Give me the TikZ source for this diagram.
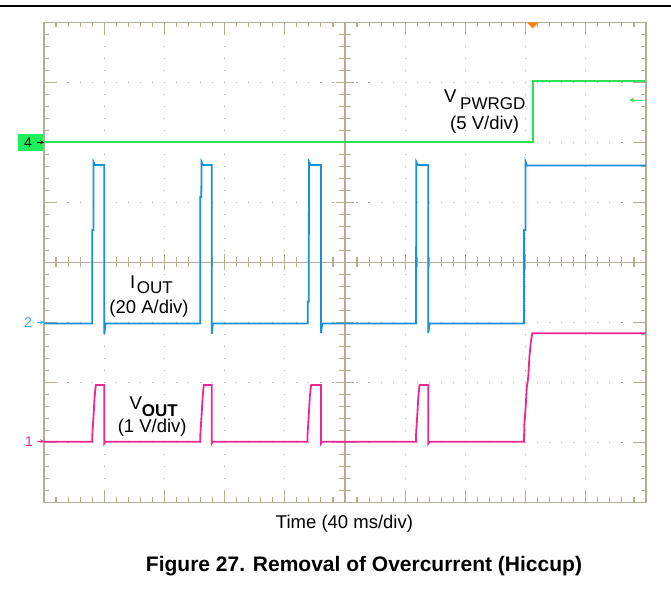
\documentclass[tikz,border=0pt]{standalone}
\usepackage{fontspec}
\setmainfont{Liberation Sans}
\usetikzlibrary{arrows.meta}
\definecolor{gridc}{RGB}{182,172,148}
\definecolor{tgreen}{RGB}{45,225,85}
\definecolor{tblue}{RGB}{25,145,215}
\definecolor{tpink}{RGB}{238,40,145}
\definecolor{lblue}{RGB}{35,170,235}
\definecolor{tor}{RGB}{255,130,20}
\definecolor{boxg}{RGB}{30,240,90}
\tikzset{
  gridline/.style={draw=gridc,line width=1.3pt},
  tickline/.style={draw=gridc,line width=1.1pt},
  trace/.style={line width=1.8pt,line join=miter,line cap=butt},
  lbl/.style={inner sep=0pt,font=\fontsize{18.5}{20}\selectfont},
  sublbl/.style={inner sep=0pt,font=\fontsize{17}{19}\selectfont},
  gnd/.style={inner sep=0pt,font=\fontsize{14}{16}\selectfont},
}
\begin{document}
\begin{tikzpicture}[x=1pt,y=-1pt]
\useasboundingbox (0,0) rectangle (671,592);
% top rule
\draw[line width=1.6pt,black] (0,6) -- (671,6);
% dotted grid
\foreach \i in {1,2,3,4,6,7,8,9}{
  \foreach \k in {1,...,39}{
    \fill[gridc] ({44+\i*60.2-0.6},{22.3+\k*12-0.6}) rectangle ++(1.2,1.2);
  }
}
\foreach \j in {1,2,3,5,6,7}{
  \foreach \k in {1,...,49}{
    \fill[gridc] ({44+\k*12.04-0.6},{22.3+\j*60-0.6}) rectangle ++(1.2,1.2);
  }
}
% border ticks
\foreach \k in {1,...,49}{
  \draw[tickline] ({44+\k*12.04},22.3) -- ++(0,4.5);
  \draw[tickline] ({44+\k*12.04},502.3) -- ++(0,-5.5);
  \draw[tickline] ({44+\k*12.04},{262.3-5}) -- ++(0,10);
}
\foreach \k in {1,...,39}{
  \draw[tickline] (44,{22.3+\k*12}) -- ++(5,0);
  \draw[tickline] (646,{22.3+\k*12}) -- ++(-5.5,0);
  \draw[tickline] ({345-6},{22.3+\k*12}) -- ++(12,0);
}
\foreach \i in {1,...,9}{
  \draw[tickline] ({44+\i*60.2},22.3) -- ++(0,12);
  \draw[tickline] ({44+\i*60.2},502.3) -- ++(0,-12);
  \draw[tickline] ({44+\i*60.2},{262.3-8}) -- ++(0,16);
}
\foreach \j in {1,...,7}{
  \draw[tickline] (44,{22.3+\j*60}) -- ++(12,0);
  \draw[tickline] (646,{22.3+\j*60}) -- ++(-12,0);
  \draw[tickline] ({345-9},{22.3+\j*60}) -- ++(18,0);
}
% center axes and border
\draw[gridline] (345,22.3) -- (345,502.3);
\draw[gridline] (44,262.3) -- (646,262.3);
\draw[gridline] (44,22.3) rectangle (646,502.3);
% trigger marker
\fill[tor] (526.7,22.3) -- (538.7,22.3) -- (532.7,28.5) -- cycle;

% green trace (VPWRGD)
\draw[trace,tgreen] (44,142.3) -- (532.7,142.3) -- (532.7,81) -- (646,81);

% blue trace (IOUT)
\draw[trace,tblue] (44,323.5)
  -- (92.3,323.5) -- (92.3,230) -- (93.5,230) -- (93.5,162) -- (95,165) -- (104.3,165) -- (104.3,334) -- (105.5,323.5)
  -- (200.3,323.5) -- (200.3,197) -- (201.3,197) -- (201.6,162) -- (203,165) -- (211.7,165) -- (211.7,334) -- (212.9,323.5)
  -- (307.7,323.5) -- (307.7,301.7) -- (308.7,301.7) -- (309,162) -- (310.5,165) -- (321,165) -- (321,333) -- (322.2,323.5)
  -- (416,323.5) -- (416.3,162) -- (417.8,165) -- (428.3,165) -- (428.3,333) -- (429.5,323.5)
  -- (524,323.5) -- (524,230) -- (525.5,230) -- (525.5,161.7) -- (527,165.5) -- (646,165.5);

% pink trace (VOUT)
\draw[trace,tpink] (44,441.7)
  \foreach \r/\f in {92.3/104.3, 200.3/211.7, 307.5/321, 416/428.3}{
    -- (\r,441.7) -- (\r,435) -- ({\r+1.3},415) -- ({\r+2.3},397) -- ({\r+3.3},387) -- ({\r+3.7},385)
    -- (\f,385) -- (\f,443.5) -- ({\f+1.2},441.7)
  }
  -- (524,441.7) -- (524.3,425) -- (525.7,406.7) -- (526.7,388) -- (528.3,376.7) -- (529.3,358)
  -- (530.7,343) -- (532.3,333.3) -- (646,333.3);

% ground markers
\fill[boxg] (18,134) rectangle (43,151);
\node[gnd,black] (m4) at (28,142.8) {4};
\coordinate (m4a) at (36.5,142.3);
\coordinate (m4b) at (44,142.3);
\draw[black,line width=0.9pt,-{Stealth[length=4pt,width=4pt]}] (m4a) -- (m4b);

\node[gnd,lblue] (m2) at (28,322.8) {2};
\coordinate (m2a) at (36.5,322.3);
\coordinate (m2b) at (44,322.3);
\draw[lblue,line width=0.9pt,-{Stealth[length=4pt,width=4pt]}] (m2a) -- (m2b);

\node[gnd,tpink] (m1) at (29,441.7) {1};
\coordinate (m1a) at (36.5,441.2);
\coordinate (m1b) at (44,441.2);
\draw[tpink,line width=0.9pt,-{Stealth[length=4pt,width=4pt]}] (m1a) -- (m1b);

\coordinate (rga) at (643.3,100);
\coordinate (rgb) at (629.3,100);
\draw[tgreen,line width=1pt,-{Stealth[length=5pt,width=5pt]}] (rga) -- (rgb);

% labels
\node[lbl,anchor=base west] (vp) at (444,102) {V};
\node[sublbl,anchor=base west] (vps) at (460,109.3) {PWRGD};
\node[lbl,anchor=base east] (vpd) at (519.3,129) {(5 V/div)};

\node[lbl,anchor=base west] (io) at (130,288.3) {I};
\node[sublbl,anchor=base west] (ios) at (136.7,293.3) {OUT};
\node[lbl,anchor=base] (iod) at (149,313.3) {(20 A/div)};

\node[lbl,anchor=base west] (vo) at (129.3,409) {V};
\node[sublbl,anchor=base west] (vos) at (141.7,416) {\textbf{OUT}};
\node[lbl,anchor=base] (vod) at (152.2,432.5) {(1 V/div)};

\node[lbl,anchor=base] (tm) at (344.5,528) {Time (40 ms/div)};

\node[inner sep=0pt,anchor=base,font=\fontsize{21}{24}\selectfont\bfseries] (cap) at (364,571.7) {Figure 27. Removal of Overcurrent (Hiccup)};
\end{tikzpicture}
\end{document}
